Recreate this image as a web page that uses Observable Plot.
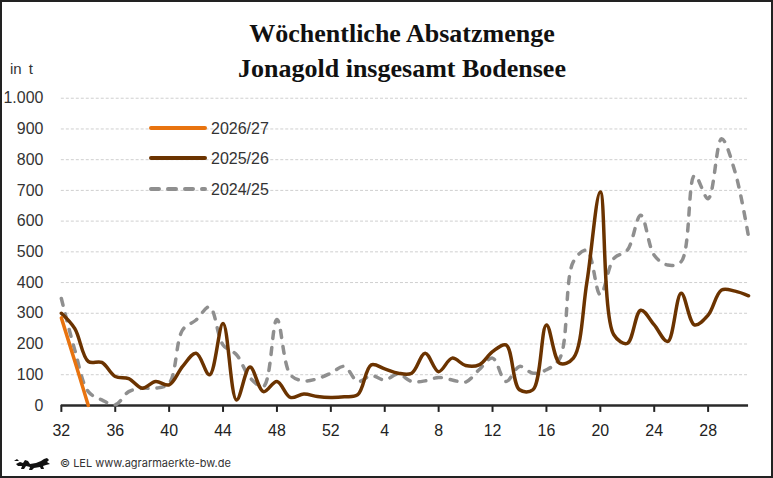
<!DOCTYPE html>
<html>
<head>
<meta charset="utf-8">
<script src="https://cdn.jsdelivr.net/npm/d3@7"></script>
<script src="https://cdn.jsdelivr.net/npm/@observablehq/plot@0.6"></script>
<style>
  html, body { margin: 0; padding: 0; background: #fff; }
  #frame { position: relative; width: 773px; height: 478px; box-sizing: border-box; border: 2px solid #222; overflow: hidden; background: #fff; }
  #chart { position: absolute; left: -2px; top: -2px; }
  .title { position: absolute; left: 0; width: 800px; text-align: center; font-family: "Liberation Serif", "DejaVu Serif", serif; font-weight: bold; font-size: 26px; color: #111; }
  #unit { position: absolute; left: 8px; top: 58px; font-family: "Liberation Sans", Arial, sans-serif; font-size: 15px; color: #333; word-spacing: 3px; }
  #legend { position: absolute; left: -2px; top: -2px; }
  #footer { position: absolute; left: 12px; top: 453px; font-family: Inter, "Liberation Sans", sans-serif; font-size: 11px; color: #333; display: flex; align-items: center; gap: 8px; }
</style>
</head>
<body>
<div id="frame">
  <div id="chart"></div>
  <div class="title" style="top:17px;">Wöchentliche Absatzmenge</div>
  <div class="title" style="top:52px;">Jonagold insgesamt Bodensee</div>
  <div id="unit">in t</div>
  <div id="legend"></div>
  <div id="footer">
    <svg width="38" height="16" viewBox="0 0 38 16">
      <path d="M2 9 L6 7 L9 8 L11 5 L14 6 L16 9 L22 8 L27 6 L30 4 L33 3 L35 5 L33 7 L36 9 L32 10 L29 11 L30 14 L27 14 L26 12 L20 13 L18 15 L15 15 L16 12 L12 11 L10 14 L7 14 L8 11 L4 11 Z" fill="#111"/>
      <path d="M0 6 L3 4 L5 6 Z" fill="#111"/>
    </svg>
    <span>© LEL www.agrarmaerkte-bw.de</span>
  </div>
</div>
<script>
// Season weeks (calendar week numbers), categories
const weeks = [32,33,34,35,36,37,38,39,40,41,42,43,44,45,46,47,48,49,50,51,52,
               1,2,3,4,5,6,7,8,9,10,11,12,13,14,15,16,17,18,19,20,21,22,23,24,25,26,27,28,29,30,31];
const xTickLabels = [32,36,40,44,48,52,4,8,12,16,20,24,28];
const yTickValues = [0,100,200,300,400,500,600,700,800,900,1000];

// Series values (t)
const s2627 = [285,144,0];
const s2526 = [300,250,143,140,94,87,56,78,67,127,170,100,267,18,125,45,78,26,37,29,26,
               28,35,132,119,105,105,170,110,154,130,132,175,197,51,51,262,137,154,400,695,
               230,202,310,262,208,365,262,294,376,372,357];
const s2425 = [348,180,45,18,2,45,56,56,72,246,278,321,197,165,90,62,280,100,80,87,105,
               127,78,97,83,102,78,80,91,83,76,116,154,78,127,105,116,154,468,505,360,
               478,505,619,489,457,468,749,673,868,760,549];

const seriesNames = ["2026/27","2025/26","2024/25"];
const seriesColors = ["#E8730F","#6B3300","#8F8F8F"];

// position of each week within the season (index into weeks)
const toRows = (vals) => vals.map((v, i) => ({pos: i, value: v}));
const tickPositions = xTickLabels.map(w => weeks.indexOf(w));

const fmt = d => d3.format(",")(d).replace(/,/g, ".");

const chart = Plot.plot({
  width: 773,
  height: 478,
  marginTop: 98,
  marginBottom: 72,
  marginLeft: 61,
  marginRight: 23,
  style: {fontFamily: '"Liberation Sans", Arial, sans-serif', background: "transparent", color: "#333"},
  x: {type: "linear", domain: [0, weeks.length - 1], label: null},
  y: {domain: [0, 1000], label: null},
  marks: [
    Plot.gridY(yTickValues.filter(d => d > 0), {stroke: "#cfcfcf", strokeOpacity: 1, strokeDasharray: "3,2", strokeWidth: 1}),
    Plot.axisY(yTickValues, {tickSize: 0, tickPadding: 18, tickFormat: fmt, fontSize: 16, fill: "#333", label: null}),
    Plot.axisX(tickPositions, {tickSize: 7, tickPadding: 12, tickFormat: i => String(weeks[i]), fontSize: 16, fill: "#222", stroke: "#222", strokeWidth: 2, label: null}),
    Plot.ruleY([0], {stroke: "#2a2a2a", strokeWidth: 2.5}),
    Plot.line(toRows(s2425), {x: "pos", y: "value", stroke: seriesColors[2], strokeWidth: 3.5, strokeDasharray: "7,9", strokeLinecap: "round", curve: "catmull-rom"}),
    Plot.line(toRows(s2526), {x: "pos", y: "value", stroke: seriesColors[1], strokeWidth: 3.5, curve: "catmull-rom"}),
    Plot.line(toRows(s2627), {x: "pos", y: "value", stroke: seriesColors[0], strokeWidth: 3.5, curve: "catmull-rom"})
  ]
});
document.getElementById("chart").appendChild(chart);

// Legend
const lg = d3.select("#legend").append("svg").attr("width", 320).attr("height", 210);
const legendY = [128, 158, 189];
seriesNames.forEach((name, i) => {
  lg.append("line").attr("x1", 151).attr("x2", 205).attr("y1", legendY[i]).attr("y2", legendY[i])
    .attr("stroke", seriesColors[i]).attr("stroke-width", 4).attr("stroke-linecap", "round")
    .attr("stroke-dasharray", i === 2 ? "8,9" : null);
  lg.append("text").attr("x", 211).attr("y", legendY[i] + 6).text(name)
    .attr("font-family", '"Liberation Sans", Arial, sans-serif').attr("font-size", 16).attr("fill", "#333");
});
</script>
</body>
</html>
